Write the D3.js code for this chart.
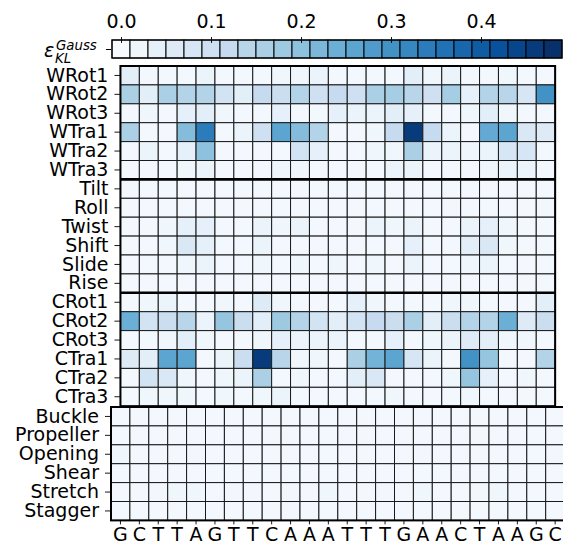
<!DOCTYPE html>
<html>
<head>
<meta charset="utf-8">
<script src="https://cdn.jsdelivr.net/npm/d3@7"></script>
<style>
  html, body { margin: 0; padding: 0; background: #fff; }
  svg { display: block; font-family: "DejaVu Sans", sans-serif; }
</style>
</head>
<body>
<svg id="chart" width="563" height="544"></svg>
<script>
// ---------------- data ----------------
const sequence = ["G","C","T","T","A","G","T","T","C","A","A","A","T","T","T","G","A","A","C","T","A","A","G","C"];

const topRowNames = ["WRot1","WRot2","WRot3","WTra1","WTra2","WTra3",
                     "Tilt","Roll","Twist","Shift","Slide","Rise",
                     "CRot1","CRot2","CRot3","CTra1","CTra2","CTra3"];
const bottomRowNames = ["Buckle","Propeller","Opening","Shear","Stretch","Stagger"];

// base-pair step parameters (23 steps)
const wrot1 = [0.05,0.01,0.01,0.01,0.03,0.01,0.01,0.01,0.02,0.02,0.03,0.01,0.01,0.01,0.01,0.05,0.02,0.03,0.01,0.01,0.02,0.01,0.01];
const wrot2 = [0.16,0.05,0.16,0.15,0.15,0.09,0.05,0.12,0.11,0.15,0.10,0.12,0.10,0.16,0.17,0.14,0.10,0.17,0.04,0.15,0.14,0.08,0.30];
const wrot3 = [0.01,0.02,0.01,0.04,0.05,0.02,0.01,0.01,0.04,0.01,0.01,0.04,0.03,0.03,0.05,0.04,0.01,0.01,0.02,0.05,0.02,0.01,0.01];
const wtra1 = [0.16,0.01,0.01,0.21,0.34,0.01,0.03,0.10,0.26,0.21,0.15,0.01,0.01,0.02,0.12,0.46,0.12,0.03,0.01,0.25,0.26,0.07,0.06];
const wtra2 = [0.01,0.03,0.01,0.04,0.20,0.01,0.01,0.01,0.01,0.09,0.04,0.01,0.01,0.02,0.02,0.16,0.03,0.03,0.02,0.03,0.08,0.08,0.01];
const wtra3 = [0.01,0.01,0.01,0.02,0.03,0.01,0.01,0.01,0.02,0.02,0.01,0.01,0.01,0.01,0.03,0.03,0.01,0.01,0.01,0.02,0.03,0.03,0.01];
const tilt  = [0.01,0.01,0.01,0.01,0.01,0.01,0.01,0.01,0.01,0.01,0.01,0.01,0.01,0.01,0.01,0.01,0.01,0.01,0.01,0.01,0.01,0.01,0.01];
const roll  = [0.01,0.01,0.01,0.01,0.01,0.01,0.01,0.01,0.01,0.01,0.01,0.01,0.01,0.01,0.01,0.01,0.01,0.015,0.01,0.01,0.01,0.01,0.015];
const twist = [0.01,0.01,0.02,0.04,0.04,0.01,0.01,0.03,0.02,0.03,0.01,0.01,0.01,0.03,0.02,0.03,0.01,0.01,0.03,0.04,0.02,0.01,0.01];
const shift = [0.01,0.01,0.02,0.07,0.04,0.01,0.01,0.03,0.01,0.01,0.01,0.01,0.01,0.01,0.01,0.04,0.01,0.01,0.05,0.07,0.02,0.01,0.01];
const slide = [0.01,0.01,0.01,0.02,0.03,0.01,0.01,0.02,0.01,0.02,0.01,0.02,0.01,0.02,0.01,0.03,0.01,0.01,0.02,0.03,0.01,0.01,0.01];
const rise  = [0.01,0.01,0.01,0.01,0.01,0.01,0.01,0.01,0.01,0.01,0.01,0.01,0.01,0.01,0.01,0.01,0.01,0.01,0.01,0.01,0.01,0.01,0.01];
const crot1 = [0.01,0.02,0.03,0.01,0.01,0.02,0.01,0.06,0.02,0.01,0.01,0.01,0.04,0.02,0.01,0.01,0.01,0.02,0.02,0.01,0.01,0.01,0.05];
const crot2 = [0.24,0.09,0.11,0.14,0.03,0.19,0.11,0.05,0.18,0.15,0.09,0.05,0.09,0.12,0.11,0.16,0.05,0.11,0.15,0.15,0.24,0.06,0.11];
const crot3 = [0.01,0.01,0.02,0.05,0.02,0.01,0.01,0.02,0.04,0.03,0.03,0.03,0.01,0.01,0.04,0.01,0.02,0.03,0.06,0.05,0.02,0.02,0.01];
const ctra1 = [0.06,0.05,0.26,0.26,0.01,0.03,0.11,0.46,0.14,0.02,0.02,0.01,0.16,0.23,0.26,0.08,0.03,0.01,0.30,0.19,0.01,0.01,0.15];
const ctra2 = [0.01,0.09,0.07,0.02,0.01,0.02,0.03,0.16,0.01,0.02,0.01,0.01,0.05,0.07,0.01,0.01,0.01,0.02,0.19,0.04,0.01,0.02,0.01];
const ctra3 = [0.01,0.02,0.02,0.02,0.01,0.02,0.01,0.02,0.03,0.01,0.01,0.01,0.01,0.01,0.02,0.01,0.01,0.01,0.02,0.01,0.01,0.01,0.01];

// base-pair parameters (24 base pairs)
const buckle    = [0.01,0.01,0.01,0.01,0.01,0.01,0.01,0.01,0.01,0.01,0.01,0.01,0.01,0.01,0.01,0.01,0.01,0.01,0.01,0.01,0.01,0.01,0.01,0.01];
const propeller = [0.01,0.01,0.01,0.01,0.01,0.01,0.01,0.01,0.01,0.01,0.01,0.01,0.01,0.01,0.01,0.01,0.01,0.01,0.01,0.01,0.01,0.01,0.01,0.01];
const opening   = [0.02,0.01,0.01,0.01,0.015,0.01,0.01,0.01,0.01,0.01,0.01,0.01,0.01,0.01,0.01,0.01,0.015,0.01,0.01,0.01,0.01,0.01,0.01,0.015];
const shear     = [0.01,0.01,0.01,0.01,0.01,0.01,0.01,0.01,0.01,0.01,0.01,0.01,0.01,0.01,0.01,0.01,0.01,0.01,0.01,0.01,0.01,0.01,0.01,0.01];
const stretch   = [0.01,0.01,0.015,0.02,0.02,0.01,0.015,0.015,0.01,0.015,0.01,0.02,0.01,0.01,0.015,0.01,0.02,0.01,0.01,0.015,0.02,0.01,0.01,0.01];
const stagger   = [0.01,0.01,0.01,0.01,0.01,0.01,0.01,0.01,0.01,0.01,0.01,0.01,0.01,0.01,0.01,0.01,0.01,0.01,0.01,0.01,0.01,0.01,0.01,0.01];

const topValues = [wrot1,wrot2,wrot3,wtra1,wtra2,wtra3,tilt,roll,twist,shift,slide,rise,crot1,crot2,crot3,ctra1,ctra2,ctra3];
const bottomValues = [buckle,propeller,opening,shear,stretch,stagger];

const colorbarLevels = [0.00,0.02,0.04,0.06,0.08,0.10,0.12,0.14,0.16,0.18,0.20,0.22,0.24,0.26,0.28,0.30,0.32,0.34,0.36,0.38,0.40,0.42,0.44,0.46,0.48];
const colorbarTicks = [0.0,0.1,0.2,0.3,0.4];

// ---------------- colour map (matplotlib Blues) ----------------
const bluesStops = ["#f7fbff","#deebf7","#c6dbef","#9ecae1","#6baed6","#4292c6","#2171b5","#08519c","#08306b"];
const bluesMap = d3.scaleLinear()
  .domain(d3.range(bluesStops.length).map(i => i / (bluesStops.length - 1)))
  .range(bluesStops)
  .interpolate(d3.interpolateRgb)
  .clamp(true);
const vmax = 0.48;
const color = v => bluesMap(v / vmax);

const FS = 19;

// ---------------- layout ----------------
const svg = d3.select("#chart");
const cell = 18.9;
const topLeft = 120.45, topTop = 66;
const botLeft = 111, botTop = 407;

const stepIdx = d3.range(sequence.length - 1);
const bpIdx = d3.range(sequence.length);

const xTop = d3.scaleBand().domain(stepIdx).range([topLeft, topLeft + cell * stepIdx.length]);
const yTop = d3.scaleBand().domain(topRowNames).range([topTop, topTop + cell * topRowNames.length]);
const xBot = d3.scaleBand().domain(bpIdx).range([botLeft, botLeft + cell * bpIdx.length]);
const yBot = d3.scaleBand().domain(bottomRowNames).range([botTop, botTop + cell * bottomRowNames.length]);

// ---------------- colour bar ----------------
const cbX = d3.scaleLinear().domain([-0.01, 0.49]).range([112, 562]);
const cbTop = 40, cbBot = 58;
const cb = svg.append("g");
cb.selectAll("rect").data(colorbarLevels).join("rect")
  .attr("x", d => cbX(d - 0.01))
  .attr("y", cbTop)
  .attr("width", d => cbX(d + 0.01) - cbX(d - 0.01))
  .attr("height", cbBot - cbTop)
  .attr("fill", d => color(d))
  .attr("stroke", "#000")
  .attr("stroke-width", 1);
cb.append("rect")
  .attr("x", cbX(-0.01)).attr("y", cbTop)
  .attr("width", cbX(0.49) - cbX(-0.01)).attr("height", cbBot - cbTop)
  .attr("fill", "none").attr("stroke", "#000").attr("stroke-width", 1.2);

const cbAxis = svg.append("g")
  .attr("transform", `translate(0,${cbTop + 3})`)
  .call(d3.axisTop(cbX).tickValues(colorbarTicks).tickFormat(d3.format(".1f")).tickSize(6).tickPadding(9));
cbAxis.select(".domain").remove();

// colour-bar label tick + label
svg.append("line").attr("x1", 106).attr("x2", 111).attr("y1", 49.5).attr("y2", 49.5)
  .attr("stroke", "#000").attr("stroke-width", 1);
const lab = svg.append("g").attr("font-family", "DejaVu Sans").attr("font-style", "italic").attr("fill", "#000");
lab.append("text").attr("x", 44).attr("y", 57).attr("font-size", 19).text("ε");
lab.append("text").attr("x", 56).attr("y", 50).attr("font-size", 13.3).text("Gauss");
lab.append("text").attr("x", 55).attr("y", 63).attr("font-size", 13.3).text("KL");

// ---------------- top heatmap ----------------
const topCells = [];
topValues.forEach((row, r) => row.forEach((v, c) => topCells.push({ row: topRowNames[r], col: c, v })));
svg.append("g").selectAll("rect").data(topCells).join("rect")
  .attr("x", d => xTop(d.col))
  .attr("y", d => yTop(d.row))
  .attr("width", xTop.bandwidth())
  .attr("height", yTop.bandwidth())
  .attr("fill", d => color(d.v))
  .attr("stroke", "#1a1a1a")
  .attr("stroke-width", 1);

// section separators
const sepRows = ["Tilt", "CRot1"];
svg.append("g").selectAll("line").data(sepRows).join("line")
  .attr("x1", xTop.range()[0]).attr("x2", xTop.range()[1])
  .attr("y1", d => yTop(d)).attr("y2", d => yTop(d))
  .attr("stroke", "#000").attr("stroke-width", 2.6);

svg.append("rect")
  .attr("x", xTop.range()[0]).attr("y", yTop.range()[0])
  .attr("width", xTop.range()[1] - xTop.range()[0])
  .attr("height", yTop.range()[1] - yTop.range()[0])
  .attr("fill", "none").attr("stroke", "#000").attr("stroke-width", 2);

const yTopAxis = svg.append("g")
  .attr("transform", `translate(${topLeft},0)`)
  .call(d3.axisLeft(yTop).tickSize(6).tickPadding(6));
yTopAxis.select(".domain").remove();

// ---------------- bottom heatmap ----------------
const botCells = [];
bottomValues.forEach((row, r) => row.forEach((v, c) => botCells.push({ row: bottomRowNames[r], col: c, v })));
svg.append("g").selectAll("rect").data(botCells).join("rect")
  .attr("x", d => xBot(d.col))
  .attr("y", d => yBot(d.row))
  .attr("width", xBot.bandwidth())
  .attr("height", yBot.bandwidth())
  .attr("fill", d => color(d.v))
  .attr("stroke", "#1a1a1a")
  .attr("stroke-width", 1);

svg.append("rect")
  .attr("x", xBot.range()[0]).attr("y", yBot.range()[0])
  .attr("width", xBot.range()[1] - xBot.range()[0])
  .attr("height", yBot.range()[1] - yBot.range()[0])
  .attr("fill", "none").attr("stroke", "#000").attr("stroke-width", 2);

const yBotAxis = svg.append("g")
  .attr("transform", `translate(${botLeft},0)`)
  .call(d3.axisLeft(yBot).tickSize(6).tickPadding(6));
yBotAxis.select(".domain").remove();

const xBotAxis = svg.append("g")
  .attr("transform", `translate(0,${yBot.range()[1]})`)
  .call(d3.axisBottom(xBot).tickFormat(i => sequence[i]).tickSize(4).tickPadding(3));
xBotAxis.select(".domain").remove();

svg.selectAll(".tick text").attr("font-size", FS).attr("fill", "#000").attr("font-family", "DejaVu Sans");
svg.selectAll(".tick line").attr("stroke", "#000").attr("stroke-width", 0.9);
</script>
</body>
</html>
